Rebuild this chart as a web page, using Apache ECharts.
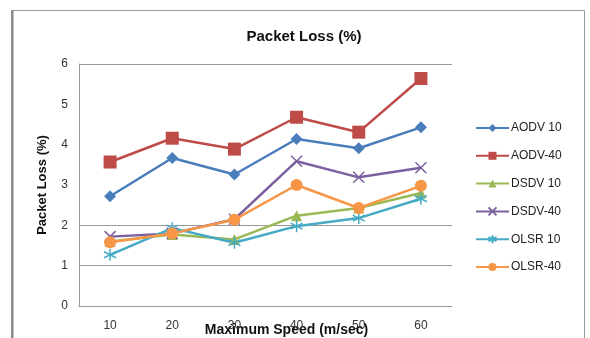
<!DOCTYPE html>
<html>
<head>
<meta charset="utf-8">
<script src="https://cdn.jsdelivr.net/npm/echarts@6/dist/echarts.min.js"></script>
<style>
  html, body { margin: 0; padding: 0; background: #fff; }
  #chart { width: 590px; height: 338px; }
</style>
</head>
<body>
<div id="chart"></div>
<script>
// Maximum speed categories (m/sec)
const speeds = ['10', '20', '30', '40', '50', '60'];

// Packet loss (%) per protocol / node count
const aodv10 = [2.72, 3.67, 3.26, 4.14, 3.91, 4.43];
const aodv40 = [3.57, 4.16, 3.89, 4.68, 4.31, 5.64];
const dsdv10 = [1.6, 1.77, 1.65, 2.24, 2.43, 2.8];
const dsdv40 = [1.72, 1.8, 2.15, 3.59, 3.19, 3.43];
const olsr10 = [1.27, 1.93, 1.57, 1.98, 2.18, 2.66];
const olsr40 = [1.58, 1.8, 2.14, 3.0, 2.43, 2.98];

const names = ['AODV 10', 'AODV-40', 'DSDV 10', 'DSDV-40', 'OLSR 10', 'OLSR-40'];
const yTicks = [0, 1, 2, 3, 4, 5, 6];

const crossPath = 'path://M0,0L10,10M10,0L0,10';
const starPath = 'path://M5,0L5,10M0,2.5L10,7.5M10,2.5L0,7.5';

function line(name, data, color, symbol, size, hollow) {
  return {
    name: name,
    type: 'line',
    data: data,
    symbol: symbol,
    symbolSize: size,
    lineStyle: { color: color, width: 2.5 },
    itemStyle: hollow
      ? { color: 'transparent', borderColor: color, borderWidth: 1.5 }
      : { color: color },
    emphasis: { disabled: true },
    animation: false
  };
}

const chart = echarts.init(document.getElementById('chart'));
chart.setOption({
  backgroundColor: '#fff',
  animation: false,
  title: {
    text: 'Packet Loss (%)',
    left: 299,
    textAlign: 'center',
    top: 24,
    textStyle: { fontFamily: 'Liberation Sans', fontSize: 15, fontWeight: 'bold', color: '#111' }
  },
  graphic: [
    {
      type: 'rect',
      shape: { x: 11.5, y: 10.5, width: 573, height: 340 },
      style: { fill: 'none', stroke: '#9a9a9a', lineWidth: 1 },
      silent: true
    },
    {
      type: 'line',
      shape: { x1: 12.5, y1: 10, x2: 12.5, y2: 338 },
      style: { stroke: '#888', lineWidth: 2 },
      silent: true
    }
  ],
  legend: {
    orient: 'vertical',
    left: 475,
    top: 122,
    padding: 0,
    itemGap: 15.8,
    itemWidth: 33,
    itemHeight: 10,
    data: names,
    textStyle: { fontFamily: 'Liberation Sans', fontSize: 12, color: '#222', padding: [0, 0, 0, -3] }
  },
  grid: { left: 79, right: 138, top: 64, bottom: 32, outerBoundsMode: 'none', containLabel: false },
  xAxis: {
    type: 'category',
    data: speeds,
    name: 'Maximum Speed (m/sec)',
    nameLocation: 'middle',
    nameGap: 17,
    nameMoveOverlap: false,
    nameTextStyle: {
      fontFamily: 'Liberation Sans', fontSize: 14, fontWeight: 'bold', color: '#111',
      padding: [0, 0, 0, 42]
    },
    axisLine: { lineStyle: { color: '#999' } },
    axisTick: { show: false },
    axisLabel: { fontFamily: 'Liberation Sans', fontSize: 12, color: '#333', margin: 14 }
  },
  yAxis: {
    type: 'value',
    min: 0,
    max: 6,
    interval: 1,
    name: 'Packet Loss (%)',
    nameLocation: 'middle',
    nameGap: 30,
    nameMoveOverlap: false,
    nameTextStyle: { fontFamily: 'Liberation Sans', fontSize: 13, fontWeight: 'bold', color: '#111' },
    axisLine: { show: true, lineStyle: { color: '#999' } },
    axisTick: { show: false },
    axisLabel: {
      fontFamily: 'Liberation Sans', fontSize: 12, color: '#333', margin: 11,
      formatter: v => String(yTicks[v])
    },
    splitLine: {
      lineStyle: { color: ['#999', '#999', '#999', 'transparent', 'transparent', 'transparent', '#999'], width: 1 }
    }
  },
  series: [
    line(names[0], aodv10, '#4a7ebb', 'diamond', 12),
    line(names[1], aodv40, '#be4b48', 'rect', 13),
    line(names[2], dsdv10, '#98b954', 'triangle', 11),
    line(names[3], dsdv40, '#7d60a0', crossPath, 11, true),
    line(names[4], olsr10, '#46aac5', starPath, 12, true),
    line(names[5], olsr40, '#f79646', 'circle', 12)
  ]
});
</script>
</body>
</html>
